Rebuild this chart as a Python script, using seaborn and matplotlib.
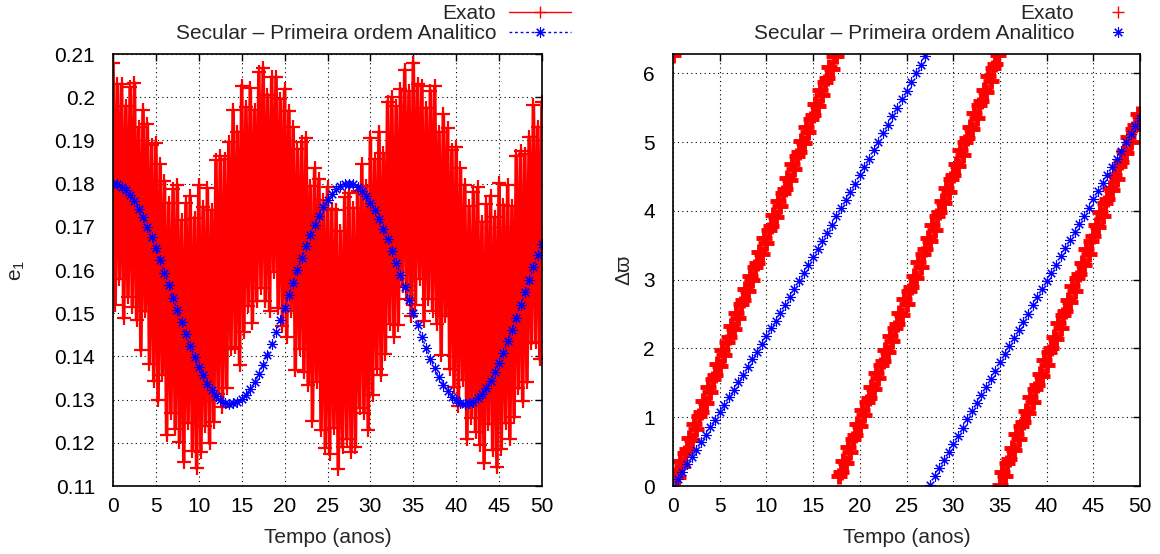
import matplotlib
matplotlib.use('Agg')
import matplotlib.pyplot as plt
import numpy as np
import pandas as pd
import seaborn as sns

# tempo (anos)
t_exato = np.linspace(0, 50, 201)
t_secular = np.linspace(0, 50, 101)

# e1 - exato (amostras a cada 0.25 ano)
e1_exato = [
    0.2080, 0.1520, 0.2030, 0.1580, 0.2030, 0.1488, 0.1980, 0.1538,
    0.2023, 0.1515, 0.2033, 0.1485, 0.1930, 0.1414, 0.1970, 0.1504,
    0.1939, 0.1383, 0.1889, 0.1343, 0.1895, 0.1298, 0.1845, 0.1358,
    0.1806, 0.1219, 0.1756, 0.1269, 0.1787, 0.1233, 0.1797, 0.1203,
    0.1715, 0.1156, 0.1755, 0.1246, 0.1771, 0.1181, 0.1721, 0.1141,
    0.1796, 0.1179, 0.1746, 0.1239, 0.1789, 0.1199, 0.1739, 0.1249,
    0.1854, 0.1313, 0.1864, 0.1283, 0.1857, 0.1327, 0.1897, 0.1417,
    0.1970, 0.1421, 0.1920, 0.1381, 0.2027, 0.1457, 0.1977, 0.1517,
    0.2021, 0.1478, 0.1971, 0.1528, 0.2058, 0.1558, 0.2068, 0.1528,
    0.2006, 0.1506, 0.2046, 0.1596, 0.2046, 0.1511, 0.1996, 0.1471,
    0.2019, 0.1446, 0.1969, 0.1506, 0.1930, 0.1368, 0.1880, 0.1418,
    0.1896, 0.1364, 0.1906, 0.1334, 0.1795, 0.1251, 0.1835, 0.1341,
    0.1811, 0.1229, 0.1761, 0.1189, 0.1792, 0.1174, 0.1742, 0.1234,
    0.1740, 0.1140, 0.1690, 0.1190, 0.1768, 0.1209, 0.1778, 0.1179,
    0.1744, 0.1191, 0.1784, 0.1281, 0.1845, 0.1270, 0.1795, 0.1230,
    0.1906, 0.1311, 0.1856, 0.1371, 0.1920, 0.1356, 0.1870, 0.1406,
    0.1990, 0.1476, 0.2000, 0.1446, 0.1979, 0.1473, 0.2019, 0.1563,
    0.2064, 0.1533, 0.2014, 0.1493, 0.2080, 0.1520, 0.2030, 0.1580,
    0.2026, 0.1483, 0.1976, 0.1533, 0.2015, 0.1506, 0.2025, 0.1476,
    0.1920, 0.1403, 0.1960, 0.1493, 0.1928, 0.1370, 0.1878, 0.1330,
    0.1885, 0.1286, 0.1835, 0.1346, 0.1797, 0.1208, 0.1747, 0.1258,
    0.1781, 0.1226, 0.1791, 0.1196, 0.1712, 0.1153, 0.1752, 0.1243,
    0.1772, 0.1183, 0.1722, 0.1143, 0.1801, 0.1186, 0.1751, 0.1246,
    0.1797, 0.1209, 0.1747, 0.1259, 0.1865, 0.1326, 0.1875, 0.1296,
    0.1868, 0.1340, 0.1908, 0.1430, 0.1981, 0.1433, 0.1931, 0.1393,
    0.1990,
]

# e1 - secular, primeira ordem analitico (a cada 0.5 ano)
e1_secular = [
    0.1800, 0.1798, 0.1793, 0.1785, 0.1774, 0.1759, 0.1742, 0.1722, 0.1700, 0.1676,
    0.1650, 0.1623, 0.1594, 0.1565, 0.1536, 0.1507, 0.1479, 0.1451, 0.1424, 0.1399,
    0.1376, 0.1356, 0.1337, 0.1322, 0.1309, 0.1300, 0.1293, 0.1290, 0.1291, 0.1294,
    0.1301, 0.1311, 0.1325, 0.1341, 0.1359, 0.1381, 0.1404, 0.1429, 0.1456, 0.1484,
    0.1513, 0.1542, 0.1571, 0.1600, 0.1628, 0.1655, 0.1681, 0.1705, 0.1726, 0.1746,
    0.1762, 0.1776, 0.1787, 0.1795, 0.1799, 0.1800, 0.1798, 0.1792, 0.1783, 0.1771,
    0.1756, 0.1738, 0.1718, 0.1695, 0.1671, 0.1645, 0.1617, 0.1589, 0.1560, 0.1530,
    0.1501, 0.1473, 0.1446, 0.1419, 0.1395, 0.1372, 0.1352, 0.1334, 0.1319, 0.1307,
    0.1298, 0.1292, 0.1290, 0.1291, 0.1295, 0.1303, 0.1314, 0.1328, 0.1344, 0.1364,
    0.1385, 0.1409, 0.1435, 0.1462, 0.1490, 0.1519, 0.1548, 0.1577, 0.1606, 0.1634,
    0.1660,
]

# delta varpi - exato (a cada 0.25 ano)
dw_exato = [
    6.27, 0.16, 0.13, 0.36, 0.29, 0.48, 0.54, 0.70, 0.67, 0.90,
    0.83, 1.02, 1.08, 1.24, 1.21, 1.44, 1.37, 1.56, 1.62, 1.78,
    1.75, 1.98, 1.91, 2.10, 2.16, 2.32, 2.29, 2.52, 2.45, 2.64,
    2.70, 2.86, 2.83, 3.06, 2.99, 3.18, 3.24, 3.40, 3.37, 3.60,
    3.53, 3.72, 3.78, 3.94, 3.91, 4.14, 4.07, 4.26, 4.32, 4.48,
    4.45, 4.68, 4.61, 4.80, 4.86, 5.02, 4.99, 5.22, 5.15, 5.34,
    5.40, 5.56, 5.53, 5.76, 5.69, 5.88, 5.94, 6.10, 6.07, 6.26,
    6.25, 0.14, 0.20, 0.36, 0.33, 0.56, 0.49, 0.68, 0.74, 0.90,
    0.87, 1.10, 1.03, 1.22, 1.28, 1.44, 1.41, 1.64, 1.57, 1.76,
    1.82, 1.98, 1.95, 2.18, 2.11, 2.30, 2.36, 2.52, 2.49, 2.72,
    2.65, 2.84, 2.90, 3.06, 3.03, 3.26, 3.19, 3.38, 3.44, 3.60,
    3.57, 3.80, 3.73, 3.92, 3.98, 4.14, 4.11, 4.34, 4.27, 4.46,
    4.52, 4.68, 4.65, 4.88, 4.81, 5.00, 5.06, 5.22, 5.19, 5.42,
    5.35, 5.54, 5.60, 5.76, 5.73, 5.96, 5.89, 6.08, 6.14, 6.27,
    0.02, 0.21, 0.14, 0.33, 0.39, 0.55, 0.52, 0.75, 0.68, 0.87,
    0.93, 1.09, 1.06, 1.29, 1.22, 1.41, 1.47, 1.63, 1.60, 1.83,
    1.76, 1.95, 2.01, 2.17, 2.14, 2.37, 2.30, 2.49, 2.55, 2.71,
    2.68, 2.91, 2.84, 3.03, 3.09, 3.25, 3.22, 3.45, 3.38, 3.57,
    3.63, 3.79, 3.76, 3.99, 3.92, 4.11, 4.17, 4.33, 4.30, 4.53,
    4.46, 4.65, 4.71, 4.87, 4.84, 5.07, 5.00, 5.19, 5.25, 5.41,
    5.38,
]

# delta varpi - secular (a cada 0.5 ano)
dw_secular = [
    0.0000, 0.1052, 0.2108, 0.3168, 0.4232, 0.5300, 0.6372, 0.7448, 0.8528, 0.9612,
    1.0700, 1.1792, 1.2888, 1.3988, 1.5092, 1.6200, 1.7312, 1.8428, 1.9548, 2.0672,
    2.1800, 2.2932, 2.4068, 2.5208, 2.6352, 2.7500, 2.8652, 2.9808, 3.0968, 3.2132,
    3.3300, 3.4472, 3.5648, 3.6828, 3.8012, 3.9200, 4.0392, 4.1588, 4.2788, 4.3992,
    4.5200, 4.6412, 4.7628, 4.8848, 5.0072, 5.1300, 5.2532, 5.3768, 5.5008, 5.6252,
    5.7500, 5.8752, 6.0008, 6.1268, 6.2532, 0.0200, 0.1385, 0.2570, 0.3755, 0.4940,
    0.6125, 0.7310, 0.8495, 0.9680, 1.0865, 1.2050, 1.3235, 1.4420, 1.5605, 1.6790,
    1.7975, 1.9160, 2.0345, 2.1530, 2.2715, 2.3900, 2.5085, 2.6270, 2.7455, 2.8640,
    2.9825, 3.1010, 3.2195, 3.3380, 3.4565, 3.5750, 3.6935, 3.8120, 3.9305, 4.0490,
    4.1675, 4.2860, 4.4045, 4.5230, 4.6415, 4.7600, 4.8785, 4.9970, 5.1155, 5.2340,
    5.3525,
]

lbl_exato = 'Exato'
lbl_secular = 'Secular \u2013 Primeira ordem Analitico'

sns.set_theme(style='white')
plt.rcParams['font.family'] = ['Liberation Sans', 'DejaVu Sans']
plt.rcParams['mathtext.fontset'] = 'custom'
plt.rcParams['mathtext.rm'] = 'Liberation Sans'
plt.rcParams['mathtext.it'] = 'Liberation Sans'
FS = 15

fig = plt.figure(figsize=(11.6, 5.54), dpi=100)
ax1 = fig.add_axes([113 / 1160, 1 - 486 / 554, 429 / 1160, 432 / 554])
ax2 = fig.add_axes([673 / 1160, 1 - 486 / 554, 467 / 1160, 432 / 554])

df_ex = pd.DataFrame({'t': t_exato, 'e': e1_exato, 'w': dw_exato})
df_sec = pd.DataFrame({'t': t_secular, 'e': e1_secular, 'w': dw_secular})

# painel esquerdo
sns.lineplot(data=df_ex, x='t', y='e', ax=ax1, color='red', lw=2.6,
             marker='+', markersize=10, markeredgewidth=1.6,
             markeredgecolor='red', label=lbl_exato)
sns.lineplot(data=df_sec, x='t', y='e', ax=ax1, color='blue', lw=1.0,
             dashes=False, linestyle=(0, (2, 2)),
             marker=(8, 2, 0), markersize=7.5, markeredgewidth=0.8,
             markeredgecolor='blue', label=lbl_secular)

# painel direito
sns.lineplot(data=df_ex, x='t', y='w', ax=ax2, color='red', linestyle='none',
             marker='+', markersize=12, markeredgewidth=3.5,
             markeredgecolor='red', label=lbl_exato)
sns.lineplot(data=df_sec, x='t', y='w', ax=ax2, color='blue', linestyle='none',
             marker=(8, 2, 0), markersize=7.5, markeredgewidth=0.8,
             markeredgecolor='blue', label=lbl_secular)

ax1.set_xlim(0, 50)
ax1.set_ylim(0.11, 0.21)
ax1.set_yticks(np.arange(0.11, 0.2101, 0.01))
ax1.set_yticklabels(['%g' % round(v, 2) for v in np.arange(0.11, 0.2101, 0.01)])
ax2.set_xlim(0, 50)
ax2.set_ylim(0, 2 * np.pi)
ax2.set_yticks(range(0, 7))

for ax in (ax1, ax2):
    ax.set_xticks(range(0, 51, 5))
    ax.grid(True, color='black', linestyle=(0, (1, 3)), lw=0.8)
    ax.tick_params(direction='in', length=5, width=1, top=True, right=True,
                   labelsize=FS, colors='black')
    ax.tick_params(axis='x', pad=8)
    ax.tick_params(axis='y', pad=13)
    for s in ax.spines.values():
        s.set_color('black')
        s.set_linewidth(1.2)
    ax.set_xlabel('Tempo (anos)', fontsize=FS)
    ax.xaxis.set_label_coords(0.5, -0.097)

ax1.set_ylabel('e$_1$', fontsize=FS)
ax1.yaxis.set_label_coords(-0.2, 0.5)
ax2.set_ylabel('\u0394\u03d6', fontsize=FS)
ax2.yaxis.set_label_coords(-0.085, 0.5)

for ax, xr in ((ax1, 571), (ax2, 1149)):
    leg = ax.legend(loc='upper right', bbox_to_anchor=(xr / 1160, 1 - 4 / 554),
                    bbox_transform=fig.transFigure, frameon=False, fontsize=FS,
                    markerfirst=False, handlelength=3.0, handletextpad=0.6,
                    labelspacing=0.05, borderpad=0, borderaxespad=0, numpoints=1)
    for txt in leg.get_texts():
        txt.set_ha('right')
    leg._legend_box.align = 'right'
    hl = leg.get_lines()
    hl[0].set_linewidth(1.0)
    hl[0].set_markersize(8)
    hl[0].set_markeredgewidth(1.0)

fig.savefig('out.png', dpi=100)
